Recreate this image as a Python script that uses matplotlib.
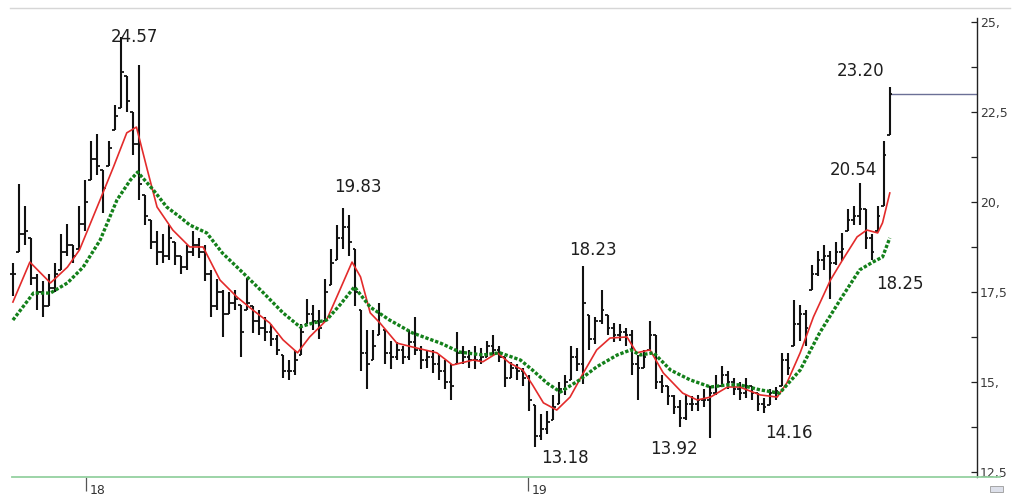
import numpy as np
import matplotlib
matplotlib.use("Agg")
import matplotlib.pyplot as plt
from matplotlib.lines import Line2D
from matplotlib.patches import Rectangle

# price bars (about 5 days each)
hi = [18.3, 20.5, 19.9, 19.0, 18.0, 17.8, 18.0, 18.3, 19.1, 19.4,
      18.8, 19.9, 20.6, 21.7, 21.9, 20.9, 21.7, 22.7, 24.57, 23.5,
      22.5, 23.8, 20.2, 19.5, 19.2, 19.1, 19.35, 18.9, 18.5, 18.8,
      19.2, 19.0, 18.8, 18.1, 17.85, 17.55, 17.5, 17.55, 17.15, 17.9,
      17.1, 17.0, 16.8, 16.6, 16.3, 15.75, 15.6, 15.9, 16.6, 17.3,
      17.15, 17.0, 17.85, 18.7, 19.35, 19.83, 19.65, 18.7, 17.0, 16.45,
      16.45, 17.2, 16.45, 16.15, 16.1, 16.0, 16.45, 16.8, 16.0, 15.9,
      15.9, 15.75, 15.6, 15.5, 16.4, 16.0, 15.9, 16.0, 15.95, 16.15,
      16.3, 16.0, 15.7, 15.55, 15.5, 15.4, 15.2, 14.35, 14.1, 14.2,
      14.65, 15.0, 15.2, 16.0, 15.95, 18.23, 16.85, 16.8, 17.56, 16.85,
      16.65, 16.6, 16.5, 16.45, 15.75, 15.9, 16.7, 16.3, 15.2, 14.9,
      14.65, 14.5, 14.65, 14.6, 14.65, 14.8, 14.9, 15.2, 15.45, 15.3,
      15.1, 15.0, 15.1, 14.9, 14.7, 14.55, 14.8, 14.85, 15.8, 15.8,
      17.28, 17.15, 17.0, 18.25, 18.65, 18.8, 18.65, 18.9, 19.15, 19.8,
      19.9, 20.54, 19.8, 19.1, 19.9, 21.7, 23.2]
lo = [17.4, 18.6, 18.8, 17.7, 17.0, 16.8, 17.1, 17.5, 18.1, 18.5,
      18.3, 18.7, 19.2, 20.6, 20.75, 19.7, 21.0, 22.0, 22.6, 22.5,
      21.3, 20.05, 19.35, 18.7, 18.25, 18.3, 18.4, 18.25, 18.0, 18.1,
      18.5, 18.45, 17.8, 16.8, 17.0, 16.25, 16.9, 17.0, 15.7, 17.0,
      16.35, 16.3, 16.15, 16.0, 15.75, 15.1, 15.05, 15.2, 15.75, 16.6,
      16.45, 16.2, 16.7, 17.7, 18.4, 18.7, 18.5, 17.1, 15.3, 14.8,
      15.6, 16.3, 15.5, 15.35, 15.6, 15.5, 15.6, 15.75, 15.35, 15.4,
      15.25, 15.05, 14.8, 14.5, 15.5, 15.5, 15.4, 15.35, 15.5, 15.7,
      15.75, 15.55, 14.85, 15.1, 15.05, 14.9, 14.2, 13.18, 13.4, 13.55,
      13.95, 14.4, 14.65, 15.05, 15.3, 14.95, 15.9, 16.05, 16.6, 16.3,
      16.1, 16.15, 16.0, 15.2, 14.5, 15.4, 15.9, 14.8, 14.7, 14.35,
      14.1, 13.75, 13.95, 14.2, 14.2, 14.3, 13.45, 14.65, 14.9, 14.8,
      14.65, 14.5, 14.55, 14.5, 14.2, 14.14, 14.35, 14.5, 14.9, 15.2,
      16.0, 16.15, 16.0, 17.55, 17.95, 18.1, 17.3, 18.25, 18.35, 19.2,
      19.35, 19.35, 18.7, 18.39, 19.2, 19.9, 21.85]
cl = [18.0, 19.1, 19.2, 17.9, 17.5, 17.1, 17.6, 18.0, 18.6, 18.8,
      18.5, 19.4, 20.0, 21.2, 21.0, 20.4, 21.5, 22.4, 23.6, 22.8,
      21.6, 20.5, 19.6, 18.9, 18.6, 18.5, 19.0, 18.5, 18.2, 18.6,
      18.8, 18.6, 18.0, 17.1, 17.5, 16.9, 17.2, 17.3, 16.4, 17.2,
      16.7, 16.5, 16.4, 16.2, 15.9, 15.3, 15.3, 15.6, 16.4, 16.9,
      16.7, 16.5, 17.5, 18.3, 19.0, 19.3, 18.9, 17.5, 15.8, 15.5,
      16.0, 16.9, 15.8, 15.7, 15.9, 15.7, 16.1, 15.9, 15.6, 15.7,
      15.5, 15.3, 15.0, 14.9, 15.8, 15.7, 15.6, 15.6, 15.7, 16.0,
      15.9, 15.7, 15.1, 15.4, 15.3, 15.1, 14.5, 13.5, 13.7, 13.9,
      14.3, 14.8, 15.0, 15.7, 15.5, 17.2, 16.2, 16.7, 17.0, 16.5,
      16.3, 16.4, 16.3, 15.5, 15.4, 15.7, 16.3, 15.0, 14.9, 14.6,
      14.3, 14.0, 14.4, 14.4, 14.5, 14.5, 14.7, 14.9, 15.2, 15.0,
      14.8, 14.7, 14.9, 14.7, 14.4, 14.3, 14.7, 14.75, 15.6, 15.4,
      16.6, 16.9, 16.5, 18.0, 18.4, 18.5, 18.3, 18.6, 18.7, 19.5,
      19.6, 19.8, 19.0, 18.6, 19.6, 21.3, 23.0]

# moving averages, days counted from 1 Jan 2018
red_day = [-62, -48, -31, -17, -7, 10, 21, 32, 40, 49, 57, 70, 84, 95, 109, 123,
           136, 150, 161, 173, 183, 197, 208, 218, 225, 233, 241, 255, 268, 288,
           301, 318, 326, 338, 348, 359, 367, 376, 387, 398, 409, 420, 431, 445,
           453, 464, 475, 491, 503, 514, 528, 538, 555, 569, 577, 588, 599, 613,
           623, 635, 643, 652, 656, 662]
red_val = [17.22, 18.33, 17.75, 18.19, 18.67, 20.06, 20.97, 21.92, 22.08, 20.89,
           19.86, 19.22, 18.75, 18.75, 17.83, 17.36, 17.0, 16.64, 16.17, 15.81,
           16.25, 16.72, 17.56, 18.33, 17.92, 16.92, 16.64, 16.08, 15.97, 15.81,
           15.47, 15.61, 15.56, 15.81, 15.53, 15.33, 14.92, 14.42, 14.22, 14.58,
           15.25, 15.89, 16.22, 16.25, 15.81, 15.89, 15.25, 14.69, 14.5, 14.58,
           14.86, 14.86, 14.64, 14.58, 14.97, 15.81, 16.81, 17.83, 18.39, 19.03,
           19.22, 19.14, 19.42, 20.25]
green_day = [-62, -45, -31, -17, -4, 10, 24, 35, 41, 54, 65, 76, 84, 98, 111, 128,
             145, 161, 175, 186, 197, 208, 220, 233, 249, 268, 291, 307, 326, 340,
             357, 367, 379, 390, 406, 420, 437, 448, 456, 467, 481, 497, 514, 528,
             538, 555, 571, 588, 604, 621, 637, 648, 656, 662]
green_val = [16.72, 17.47, 17.47, 17.75, 18.19, 18.94, 20.06, 20.61, 20.83, 20.33,
             19.86, 19.58, 19.36, 19.14, 18.58, 18.03, 17.47, 16.92, 16.53, 16.64,
             16.72, 17.14, 17.64, 17.08, 16.72, 16.36, 16.08, 15.83, 15.75, 15.81,
             15.61, 15.33, 14.97, 14.72, 15.06, 15.42, 15.75, 15.89, 15.75, 15.81,
             15.33, 15.06, 14.86, 14.92, 14.92, 14.78, 14.69, 15.33, 16.36, 17.28,
             18.11, 18.33, 18.47, 19.0]

notes = ["24.57", "19.83", "18.23", "13.18", "13.92", "14.16", "20.54", "23.20", "18.25"]
note_day = [38, 223, 417, 394, 484, 579, 632, 638, 670]
note_val = [24.58, 20.42, 18.67, 12.89, 13.14, 13.58, 20.89, 23.64, 17.72]

year_day = [0, 365]
year_lab = ["18", "19"]
yticks = [12.5, 15.0, 17.5, 20.0, 22.5, 25.0]
ylabs = ["12,5", "15,", "17,5", "20,", "22,5", "25,"]

n = len(cl)
days = np.linspace(-62, 662, n)
hi = np.array(hi)
lo = np.array(lo)
cl = np.array(cl)
op = np.clip(np.r_[cl[0], cl[:-1]], lo, hi)

fig = plt.figure(figsize=(10.17, 5.0), dpi=100)
ax = fig.add_axes([10/1017, 23/500, 967/1017, 459/500])

ax.vlines(days, lo, hi, color="#111111", lw=1.5, zorder=3)
ax.hlines(op, days - 2.2, days, color="#111111", lw=1.3, zorder=3)
ax.hlines(cl, days, days + 2.2, color="#111111", lw=1.3, zorder=3)

ax.plot(red_day, red_val, color="#e32b2b", lw=1.2, zorder=4)
ax.plot(green_day, green_val, color="#13801a", lw=2.4, ls=(0, (1.0, 0.55)), zorder=4)

xmax = 734
ax.hlines(cl[-1], days[-1], xmax, color="#6b7096", lw=1.0, zorder=2)

for t, d, v in zip(notes, note_day, note_val):
    ax.text(d, v, t, fontsize=12, color="#1e1e1e", ha="center", va="center")

ax.set_xlim(-64.4, xmax)
ax.set_ylim(12.36, 25.11)

ax.spines["left"].set_visible(False)
ax.spines["top"].set_visible(False)
ax.spines["bottom"].set_visible(False)
ax.spines["right"].set_color("#222222")
ax.spines["right"].set_linewidth(1.0)

ax.yaxis.tick_right()
ax.set_yticks(yticks)
ax.set_yticklabels(ylabs)
ax.set_yticks(np.arange(13.75, 25, 2.5), minor=True)
ax.tick_params(axis="y", which="both", direction="in", length=4, width=0.9,
               color="#222222", labelsize=9, labelcolor="#3a3a3a", pad=2)

ax.set_xticks([d - 1.5 for d in year_day])
ax.set_xticklabels([])
ax.tick_params(axis="x", direction="out", length=10, width=0.9, color="#555555")
for d, lab in zip(year_day, year_lab):
    ax.annotate(lab, xy=(d, 0), xycoords=("data", "axes fraction"), xytext=(1, -5),
                textcoords="offset points", ha="left", va="top", fontsize=9,
                color="#333333", annotation_clip=False)

# frame decorations
fig.add_artist(Line2D([10/1017, 1010/1017], [492/500, 492/500], color="#d6d6d6", lw=1.0))
fig.add_artist(Rectangle((978/1017, 0), 39/1017, 22/500, transform=fig.transFigure,
                         fc="white", ec="none", zorder=5))
fig.add_artist(Line2D([12/1017, 1000/1017], [23/500, 23/500], color="#94d1a0", lw=1.3, zorder=6))
fig.add_artist(Rectangle((990/1017, 8/500), 13/1017, 6/500, transform=fig.transFigure,
                         fc="#dde0ea", ec="#9a9a9a", lw=0.6, zorder=6))

fig.savefig("out.png", dpi=100)
